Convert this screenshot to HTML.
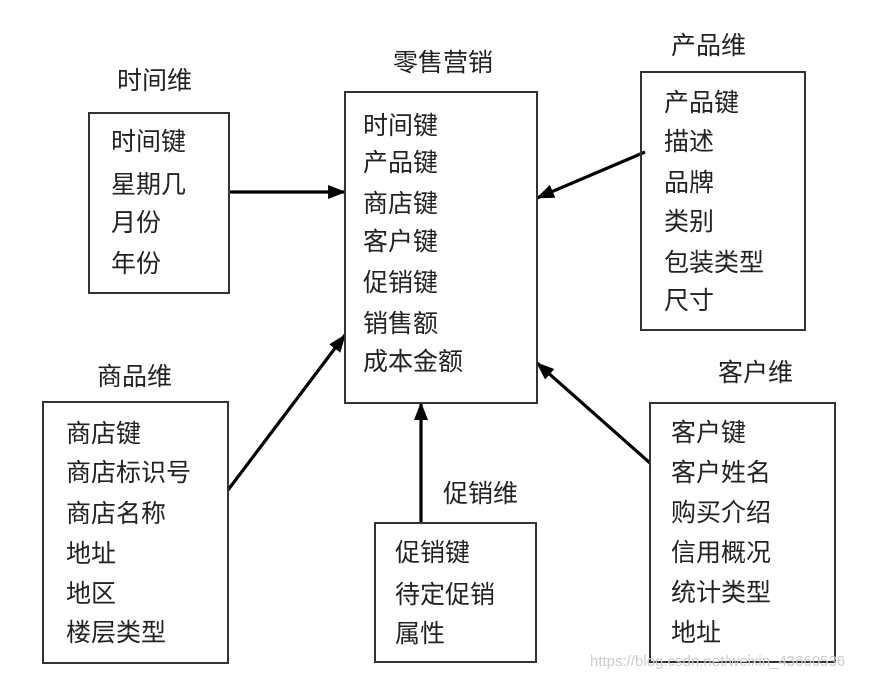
<!DOCTYPE html>
<html><head><meta charset="utf-8"><style>
body{margin:0;background:#fff;}
svg{display:block}
text{font-family:"Liberation Sans","Noto Sans CJK SC",sans-serif;font-size:25px;fill:#222;}
rect{fill:none;stroke:#333;stroke-width:2}
</style></head><body>
<svg width="870" height="679" viewBox="0 0 870 679" xmlns="http://www.w3.org/2000/svg">
<defs>
<marker id="b" markerWidth="18" markerHeight="16" refX="17" refY="8" orient="auto" markerUnits="userSpaceOnUse"><path d="M0,1 L18,8 L0,15 z" fill="#000"/></marker></defs>
<g stroke="#000" stroke-width="3.2" fill="none">
<line x1="229" y1="192" x2="345" y2="192" marker-end="url(#b)"/>
<line x1="228" y1="490" x2="345" y2="335" marker-end="url(#b)"/>
<line x1="421" y1="523" x2="421" y2="403" marker-end="url(#b)"/>
<line x1="645" y1="152" x2="537" y2="198" marker-end="url(#b)"/>
<line x1="650" y1="463" x2="537" y2="363" marker-end="url(#b)"/>
</g>
<rect x="89" y="113" width="140" height="180"/>
<rect x="345" y="92" width="192" height="311"/>
<rect x="641" y="72" width="164" height="258"/>
<rect x="650" y="403" width="185" height="259"/>
<rect x="43" y="402" width="185" height="261"/>
<rect x="375" y="523" width="161" height="139"/>
<text x="117" y="89">时间维</text>
<text x="111" y="150">时间键</text><text x="111" y="193">星期几</text><text x="111" y="231">月份</text><text x="111" y="272">年份</text>
<text x="393" y="71">零售营销</text>
<text x="363" y="134">时间键</text><text x="363" y="171">产品键</text><text x="363" y="212">商店键</text><text x="363" y="250">客户键</text><text x="363" y="291">促销键</text><text x="363" y="332">销售额</text><text x="363" y="370">成本金额</text>
<text x="671" y="54">产品维</text>
<text x="664" y="111">产品键</text><text x="664" y="150">描述</text><text x="664" y="191">品牌</text><text x="664" y="230">类别</text><text x="664" y="271">包装类型</text><text x="664" y="309">尺寸</text>
<text x="718" y="381">客户维</text>
<text x="671" y="441">客户键</text><text x="671" y="481">客户姓名</text><text x="671" y="521">购买介绍</text><text x="671" y="561">信用概况</text><text x="671" y="601">统计类型</text><text x="671" y="641">地址</text>
<text x="97" y="385">商品维</text>
<text x="66" y="442">商店键</text><text x="66" y="481">商店标识号</text><text x="66" y="522">商店名称</text><text x="66" y="562">地址</text><text x="66" y="602">地区</text><text x="66" y="641">楼层类型</text>
<text x="443" y="502">促销维</text>
<text x="395" y="561">促销键</text><text x="395" y="603">待定促销</text><text x="395" y="642">属性</text>
<text x="590" y="666" style="font-size:15px;fill:#ccc">https://blog.csdn.net/weixin_43660536</text>
</svg>
</body></html>
